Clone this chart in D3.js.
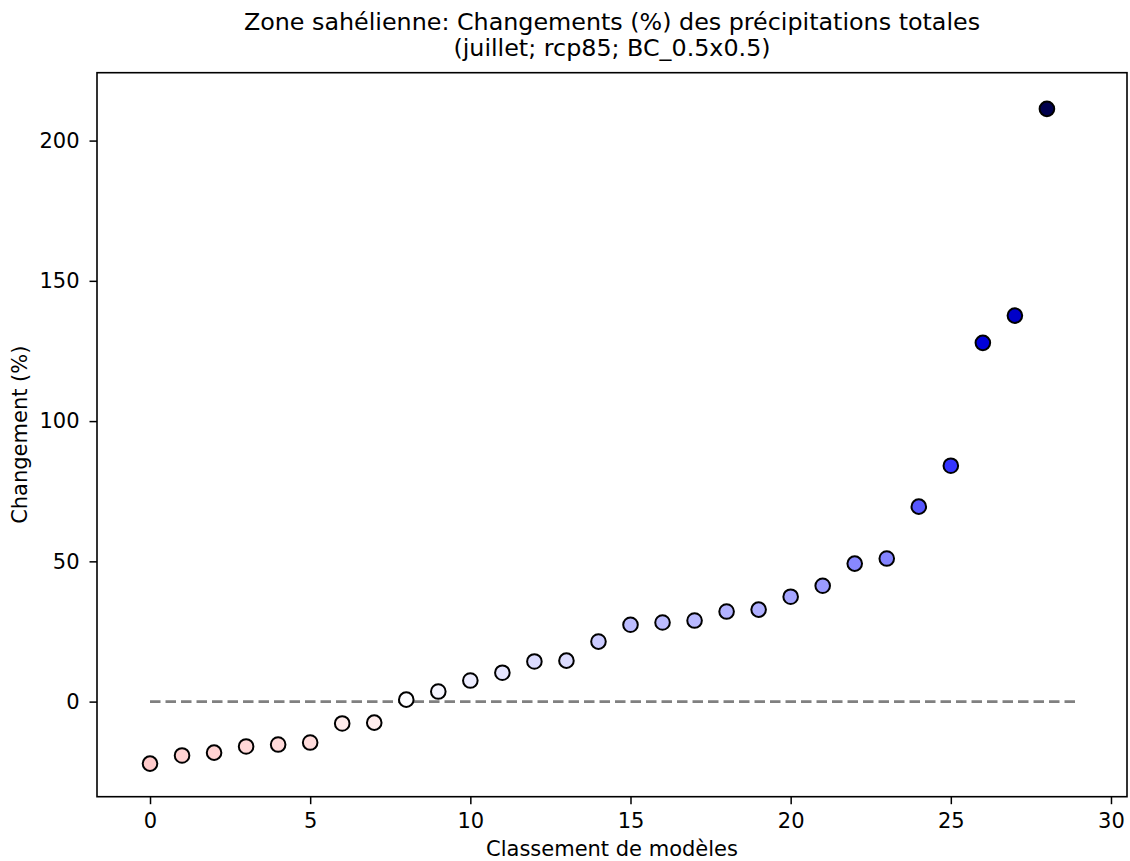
<!DOCTYPE html>
<html>
<head>
<meta charset="utf-8">
<script src="https://cdn.jsdelivr.net/npm/d3@7"></script>
<style>
  html, body { margin: 0; padding: 0; background: #fff; }
  svg { display: block; font-family: "DejaVu Sans", sans-serif; }
</style>
</head>
<body>
<svg id="chart" width="1130" height="861"></svg>
<script>
// ---- data ----
const ranks = [0,1,2,3,4,5,6,7,8,9,10,11,12,13,14,15,16,17,18,19,20,21,22,23,24,25,26,27,28];
const changes = [-22.1,-19.2,-18.2,-16.0,-15.3,-14.6,-7.8,-7.5,0.7,3.6,7.5,10.3,14.3,14.6,21.4,27.4,28.2,28.9,32.1,32.8,37.4,41.3,49.2,51.0,69.5,84.1,127.9,137.6,211.3];
const xTicks = [0,5,10,15,20,25,30];
const yTicks = [0,50,100,150,200];
const titleLines = ["Zone sahélienne: Changements (%) des précipitations totales", "(juillet; rcp85; BC_0.5x0.5)"];
const xLabel = "Classement de modèles";
const yLabel = "Changement (%)";
const refLine = [0, 29];

// ---- layout ----
const svg = d3.select("#chart");
const L = 97, R = 1127, T = 72.7, B = 796.7;
const x = d3.scaleLinear().domain([-1.655, 30.5]).range([L, R]);
const y = d3.scaleLinear().domain([-33.9, 224.2]).range([B, T]);

// seismic_r colormap, symmetric normalisation
const vmax = d3.max(changes, d => Math.abs(d));
const seismic = d3.scaleLinear()
  .domain([0, 0.25, 0.5, 0.75, 1])
  .range(["rgb(0,0,77)", "rgb(0,0,255)", "rgb(255,255,255)", "rgb(255,0,0)", "rgb(128,0,0)"]);
const color = v => seismic(1 - (v + vmax) / (2 * vmax));

// reference line
svg.append("line")
  .attr("x1", x(refLine[0])).attr("x2", x(refLine[1]))
  .attr("y1", y(0)).attr("y2", y(0))
  .attr("stroke", "#808080").attr("stroke-width", 2.8)
  .attr("stroke-dasharray", "10.5,5");

// points
svg.append("g").selectAll("circle")
  .data(ranks)
  .join("circle")
  .attr("cx", (d) => x(d))
  .attr("cy", (d, i) => y(changes[i]))
  .attr("r", 7.3)
  .attr("fill", (d, i) => color(changes[i]))
  .attr("stroke", "#000").attr("stroke-width", 2);

// axes
const fs = 21;
const xAxis = d3.axisBottom(x).tickValues(xTicks).tickSize(7.5).tickPadding(9).tickFormat(d3.format("d"));
const yAxis = d3.axisLeft(y).tickValues(yTicks).tickSize(7.5).tickPadding(10).tickFormat(d3.format("d"));
const gx = svg.append("g").attr("transform", `translate(0,${B})`).call(xAxis);
const gy = svg.append("g").attr("transform", `translate(${L},0)`).call(yAxis);
[gx, gy].forEach(g => {
  g.select(".domain").remove();
  g.selectAll(".tick line").attr("stroke", "#000").attr("stroke-width", 1.5);
  g.selectAll(".tick text").attr("fill", "#000").style("font-size", fs + "px").style("font-family", "DejaVu Sans");
});

// frame
svg.append("rect")
  .attr("x", L).attr("y", T).attr("width", R - L).attr("height", B - T)
  .attr("fill", "none").attr("stroke", "#000").attr("stroke-width", 1.6);

// title
svg.append("text")
  .attr("x", (L + R) / 2).attr("text-anchor", "middle")
  .style("font-size", "23.8px")
  .selectAll("tspan").data(titleLines).join("tspan")
  .attr("x", (L + R) / 2)
  .attr("y", (d, i) => 30 + i * 26)
  .text(d => d);

// axis labels
svg.append("text")
  .attr("x", (L + R) / 2).attr("y", 856)
  .attr("text-anchor", "middle").style("font-size", fs + "px")
  .text(xLabel);
svg.append("text")
  .attr("transform", `translate(27,${(T + B) / 2}) rotate(-90)`)
  .attr("text-anchor", "middle").style("font-size", fs + "px")
  .text(yLabel);
</script>
</body>
</html>
